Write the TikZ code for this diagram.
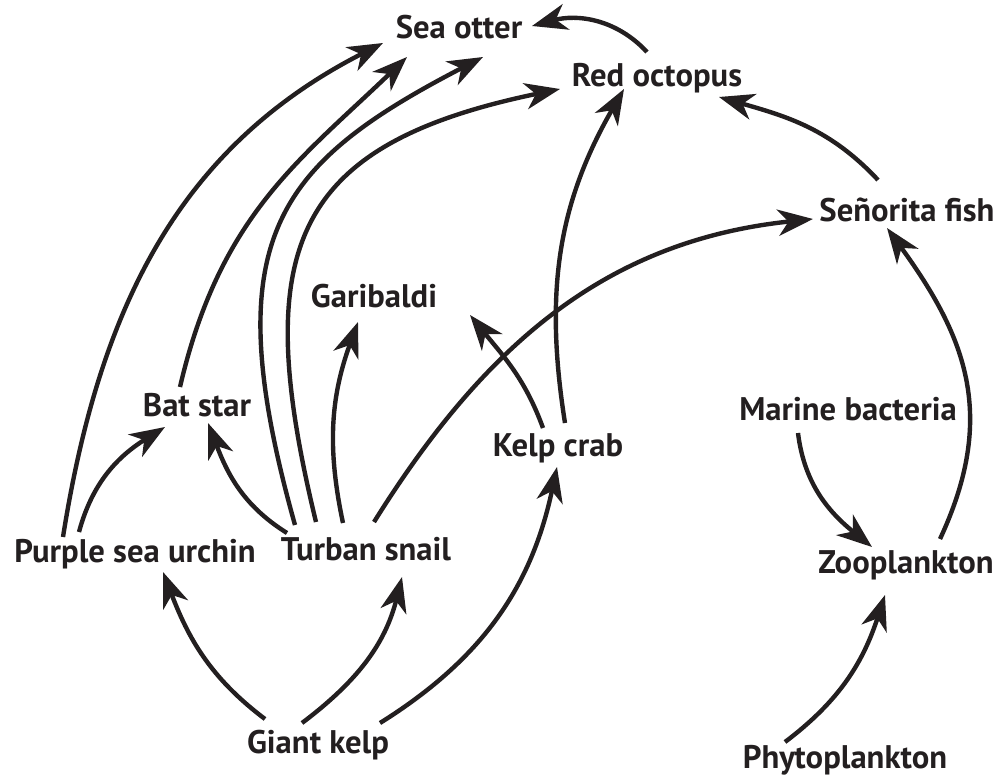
\documentclass[tikz,border=0pt]{standalone}
\usepackage{fontspec}
\setmainfont{PT Sans}
\usetikzlibrary{arrows.meta,calc}
\definecolor{inkdark}{HTML}{231F20}

\begin{document}
\begin{tikzpicture}[x=0.02cm,y=-0.02cm,
  sp/.style={anchor=base,inner sep=0pt,
    font=\fontsize{18.6}{22}\selectfont\bfseries,text=inkdark},
  arr/.style={-{Stealth[length=20pt,width=15pt,inset=6pt]},
    line width=2.5pt,draw=inkdark}]

  \useasboundingbox (0,0) rectangle (1002,777);

  % species
  \node[sp] (otter) at (459,39) {Sea otter};
  \node[sp] (octo) at (657,87) {Red octopus};
  \node[sp] (senor) at (907,222) {Señorita fish};
  \node[sp] (gari) at (374,308) {Garibaldi};
  \node[sp] (bat) at (197,417) {Bat star};
  \node[sp] (crab) at (558,456) {Kelp crab};
  \node[sp] (bact) at (848,420) {Marine bacteria};
  \node[sp] (urchin) at (135,562) {Purple sea urchin};
  \node[sp] (snail) at (366,560) {Turban snail};
  \node[sp] (zoo) at (906,573) {Zooplankton};
  \node[sp] (kelp) at (318,753) {Giant kelp};
  \node[sp] (phyto) at (845,768) {Phytoplankton};

  % who eats whom
  \draw[arr] ($(urchin.base)+(-72,-25)$) to[out=81,in=207] ($(otter.base)+(-76,4)$);
  \draw[arr] ($(bat.base)+(-17,-30)$) .. controls +(40,-172) and +(-107,103) .. ($(otter.base)+(-52,18)$);
  \draw[arr] ($(snail.base)+(-71,-35)$) .. controls +(-80,-285) and +(-208,108) .. ($(otter.base)+(24,18)$);
  \draw[arr] ($(snail.base)+(-50,-38)$) .. controls +(-66,-272) and +(-270,56) .. ($(octo.base)+(-97,2)$);
  \draw[arr] ($(snail.base)+(-23,-37)$) to[out=102,in=250] ($(gari.base)+(-16,14)$);
  \draw[arr] ($(snail.base)+(-79,-27)$) to[out=148,in=291] ($(bat.base)+(11,6)$);
  \draw[arr] ($(snail.base)+(8,-38)$) to[out=58,in=186] ($(senor.base)+(-94,-3)$);
  \draw[arr] ($(urchin.base)+(-56,-30)$) to[out=75,in=212] ($(bat.base)+(-32,10)$);
  \draw[arr] ($(kelp.base)+(-53,-34)$) to[out=143,in=291] ($(urchin.base)+(28,10)$);
  \draw[arr] ($(kelp.base)+(-16,-30)$) to[out=37,in=256] ($(snail.base)+(36,17)$);
  \draw[arr] ($(kelp.base)+(62,-30)$) to[out=32,in=258] ($(crab.base)+(-1,11)$);
  \draw[arr] ($(crab.base)+(-15,-28)$) to[out=110,in=309] ($(gari.base)+(96,7)$);
  \draw[arr] ($(crab.base)+(7,-33)$) to[out=99,in=240] ($(octo.base)+(-33,2)$);
  \draw[arr] ($(octo.base)+(-10,-35)$) to[out=133,in=15] ($(otter.base)+(73,-13)$);
  \draw[arr] ($(senor.base)+(-29,-42)$) to[out=133,in=344] ($(octo.base)+(62,10)$);
  \draw[arr] ($(zoo.base)+(34,-34)$) to[out=65,in=306,looseness=1.1] ($(senor.base)+(-20,6)$);
  \draw[arr] ($(bact.base)+(-50,13)$) to[out=277,in=141] ($(zoo.base)+(-34,-26)$);
  \draw[arr] ($(phyto.base)+(-60,-26)$) to[out=37,in=252] ($(zoo.base)+(-21,22)$);
\end{tikzpicture}
\end{document}
